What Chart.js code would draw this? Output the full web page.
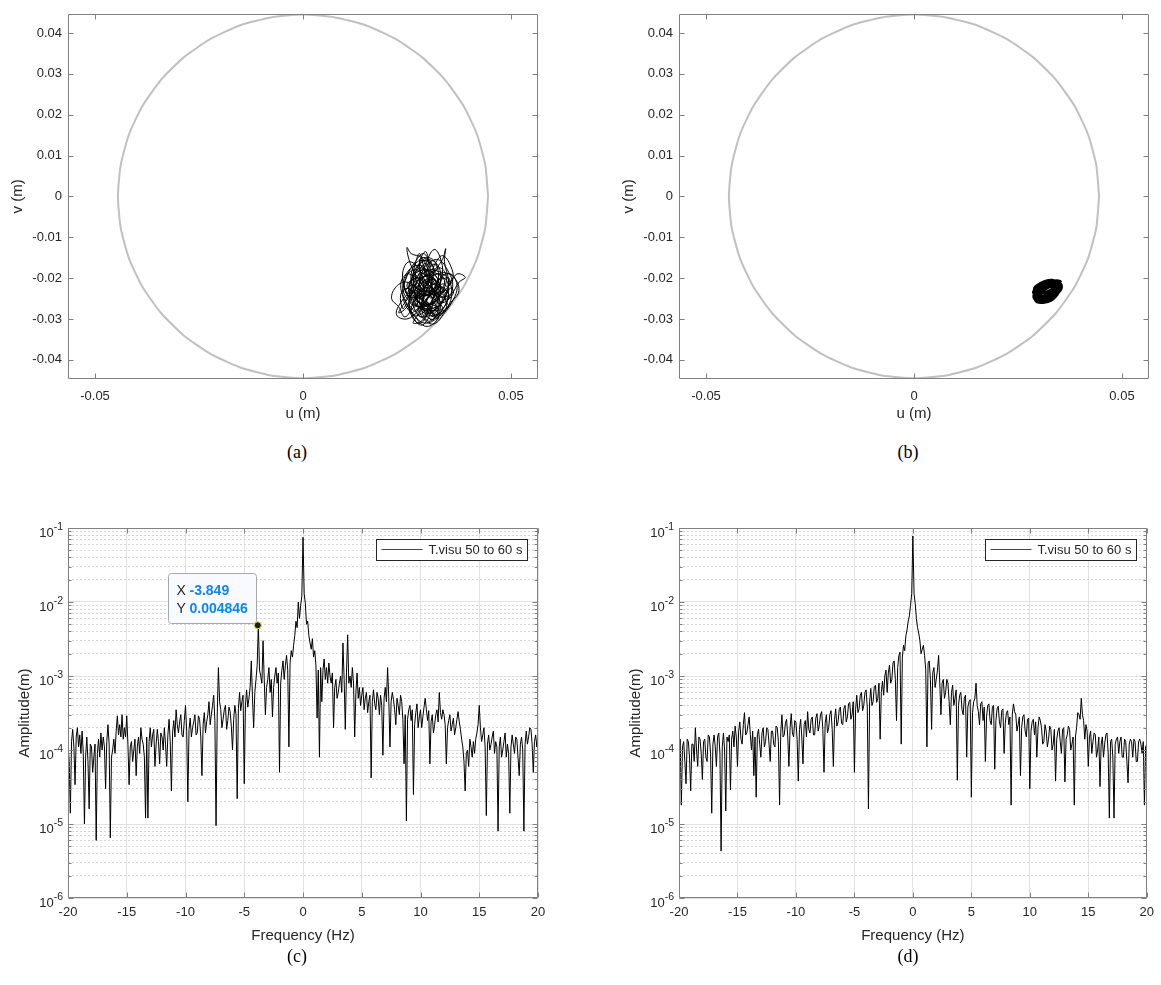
<!DOCTYPE html>
<html>
<head>
<meta charset="utf-8">
<script src="https://cdn.jsdelivr.net/npm/chart.js@4.4.0/dist/chart.umd.min.js"></script>
<style>
  html, body { margin: 0; padding: 0; background: #fff; }
  #page { position: relative; width: 1161px; height: 985px; overflow: hidden; }
  canvas { position: absolute; }
  .cap { position: absolute; font: 18px "Liberation Serif", "Times New Roman", serif; color: #000;
         transform: translate(-50%, -50%); white-space: nowrap; }
</style>
</head>
<body>
<div id="page">
  <canvas id="orbit-a" width="580" height="440" style="left:0;top:0"></canvas>
  <canvas id="orbit-b" width="550" height="440" style="left:611px;top:0"></canvas>
  <canvas id="spec-c" width="580" height="460" style="left:0;top:500px"></canvas>
  <canvas id="spec-d" width="550" height="460" style="left:611px;top:500px"></canvas>
  <div class="cap" style="left:297px;top:452px">(a)</div>
  <div class="cap" style="left:908px;top:452px">(b)</div>
  <div class="cap" style="left:297px;top:956px">(c)</div>
  <div class="cap" style="left:908px;top:956px">(d)</div>
</div>
<script>
const FONT  = '"Liberation Sans", Arial, Helvetica, sans-serif';
const INK   = '#262626';
const FRAME = '#808080';

// ---- orbit plots (a), (b) ----
const U_TICKS = [-0.05, 0, 0.05];
const V_TICKS = [-0.04, -0.03, -0.02, -0.01, 0, 0.01, 0.02, 0.03, 0.04];
const U_RANGE = [-0.0565, 0.0565];
const V_RANGE = [-0.0447, 0.0447];

// clearance circle, r = 0.0445 m, one point every 10 deg
const CIRCLE = [
  [0.0445, 0], [0.04382, 0.00773], [0.04182, 0.01522], [0.03854, 0.02225], [0.03409, 0.02860],
  [0.02860, 0.03409], [0.02225, 0.03854], [0.01522, 0.04182], [0.00773, 0.04382], [0, 0.0445],
  [-0.00773, 0.04382], [-0.01522, 0.04182], [-0.02225, 0.03854], [-0.02860, 0.03409], [-0.03409, 0.02860],
  [-0.03854, 0.02225], [-0.04182, 0.01522], [-0.04382, 0.00773], [-0.0445, 0], [-0.04382, -0.00773],
  [-0.04182, -0.01522], [-0.03854, -0.02225], [-0.03409, -0.02860], [-0.02860, -0.03409], [-0.02225, -0.03854],
  [-0.01522, -0.04182], [-0.00773, -0.04382], [0, -0.0445], [0.00773, -0.04382], [0.01522, -0.04182],
  [0.02225, -0.03854], [0.02860, -0.03409], [0.03409, -0.02860], [0.03854, -0.02225], [0.04182, -0.01522],
  [0.04382, -0.00773], [0.0445, 0]
];

// shaft centre path, mm
const ORBIT_A_MM = [
  [29,-22],[31,-19],[33,-17.5],[34.5,-20],[33,-24],[30,-26.5],[27,-25],[26,-21],[27.5,-17],[30,-15],
  [32,-16.5],[32.5,-21],[31,-25.5],[28,-29],[25.5,-28],[24,-24],[25,-19.5],[27,-16],[29,-14],[30.5,-17],
  [30,-22],[28.5,-27],[30,-30.5],[32.5,-29],[34.5,-26],[36,-22],[35,-18.5],[32.5,-15.5],[29.5,-17],[27,-20.5],
  [25.5,-25],[26.5,-29.5],[28.5,-31.5],[30.5,-29],[31.5,-24],[33,-20],[35.5,-19],[37,-21.5],[36.5,-24.5],[34,-28.5],
  [31.5,-31.2],[29,-30],[27.5,-26],[28,-21],[29.5,-16.5],[31.5,-13],[33,-15],[33.5,-19],[32,-23],[29,-24],
  [26,-23.5],[23.5,-26],[22.5,-29],[25,-30],[27.5,-28],[29,-23.5],[28,-18],[25.5,-16],[24,-18.5],[24.5,-22.5],
  [27,-26.5],[31,-28],[34,-25],[35,-21],[34,-16],[34.3,-12.8],[33.5,-15.5],[31,-18.5],[28,-20],[25,-19],
  [23.5,-21.5],[24.5,-25.5],[27,-29.5],[29.5,-31.8],[32,-30.5],[33,-27],[32,-22.5],[30.5,-19],[28.5,-15],[26,-14],
  [25,-12.5],[25.5,-15.5],[27,-19],[29.5,-22.5],[32.5,-24.5],[35.5,-24],[37.5,-21],[39,-19.8],[37,-19],[35,-22],
  [33.5,-26],[30.5,-27.5],[27,-27],[24.5,-29.5],[23,-27],[21.3,-25],[22.5,-22],[25,-21],[28,-23],[31,-24],
  [33,-21],[32.5,-17],[30,-15.5],[27.5,-17.5],[26.5,-22],[28,-26],[30.5,-28.5],[33.5,-28.5],[35.5,-25.5],[35.5,-21.5],
  [33.5,-19],[30.5,-20],[29,-24.5],[29.5,-29],[31.5,-30],[32.5,-26.5],[31,-22],[29,-19],[26.5,-18],[24.5,-20.5],
  [25,-24],[27.5,-24.5],[30,-21],[31.5,-17],[33.5,-14.5],[35.5,-17],[36,-20.5],[34,-23],[31.5,-26],[29,-27],
  [26,-26],[24,-22.5],[25.5,-18],[28.5,-17],[31,-20.5],[30,-25],[28,-28.5],[26.5,-31],[28.5,-30.5],[31,-27],
  [33,-23.5],[34.5,-27],[32,-29.5],[29.5,-26],[27,-23],[25.5,-26.5],[27.5,-30],[30,-31],[33,-29],[35.5,-26],
  [37.5,-23],[36,-19.5],[33,-18.5],[30,-18],[27,-21.5],[25,-27],[23,-28.5],[24.5,-26],[27.5,-22],[30,-17.5],
  [29.5,-13.5],[28,-16.5],[29,-20],[31.5,-23],[33.5,-25],[31.5,-28],
  [30,-26],[28.5,-24],[27.5,-22.5],[29,-21],[30.5,-23],[29.5,-25.5],[27.5,-27.5],[26,-28.5],[26.5,-26],[28,-24.5],
  [30.5,-24.5],[32,-26],[31,-28.5],[29,-28],[28,-25.5],[29.5,-23],[31.5,-21.5],[33,-22.5],[32.5,-25],[30.5,-26.5],
  [28.5,-26.5],[27,-24],[27.5,-21],[29.5,-19.5],[31.5,-20],[32,-22],[30.5,-23.5],[28.5,-22.5],[27,-19.5],[28,-17.5],
  [30,-18.5],[31,-21],[29.5,-23.5],[27.5,-25],[26,-24],[25.5,-21.5],[27,-20],[29,-20.5],[30.5,-22],[31.5,-24.5],
  [33,-26.5],[34,-24.5],[33,-22],[31,-20],[29,-18],[28,-15.5],[29.5,-15],[31,-16.5],[31.5,-19],[30,-21.5],
  [28,-23.5],[26.5,-25.5],[27,-28],[28.5,-29.5],[30,-28],[31,-25.5],[32.5,-23.5],[34,-21.5],[33.5,-19.5],[32,-19],
  [30,-20],[28.5,-21.5],[28,-24],[29,-26],[31,-26.5],[32.5,-27.5],[32.5,-30],[31.5,-29.5],[30,-29],[28.5,-28],
  [27,-26],[25.5,-23.5],[26,-20.5],[27.5,-18.5],[29.5,-18],[31,-18.5],[32.5,-20.5],[33,-23],[31.5,-24],[29.5,-24],
  [28,-22],[28.5,-20],[30.5,-19.5],[32,-21],[31,-23],[29,-23],[27.5,-24],[27,-26.5],[28.5,-27],[30,-25],
  [31,-23.5],[32.5,-22],[34.5,-23],[35,-25],[33.5,-26],[32,-24.5],[30.5,-21],[29,-17],[28,-14],[27,-16.5],
  [26.5,-19.5],[27,-22.5],[28.5,-25],[30,-27.5],[29,-30.5],[27.5,-31],[26,-29],[25,-26.5],[24,-27.5],[23.5,-24],
  [25,-22.5],[26.5,-23.5],[27.5,-25.5],[29.5,-27.5],[32,-28],[34,-27],[35,-23.5],[34.5,-20.5],[33,-20],[31.5,-22.5],
  [30,-24],[28,-25],[26.5,-22.5],[26,-19],[27.5,-16],[30,-16],[31.5,-18],[30.5,-20.5],[29,-22],[28,-20],
  [29,-20.8],[30.2,-20.2],[31,-21.4],[30.4,-22.6],[29.2,-22.2],[28.4,-23.2],[29,-24.4],[30.2,-24],[31.2,-25],[30.6,-26.2],
  [29.4,-25.8],[28.6,-26.8],[29.2,-28],[30.4,-27.6],[31.4,-28.6],[32.4,-27.8],[33.2,-26.6],[32.4,-25.6],[33.4,-24.6],[34.4,-25.2],
  [35,-24],[34.2,-23],[33.2,-23.6],[32.6,-22.4],[33.6,-21.4],[34.6,-22],[35.4,-21],[34.8,-19.8],[33.6,-20.2],[32.8,-19.2],
  [31.8,-18.6],[32.4,-17.4],[31.4,-16.6],[30.4,-17.4],[29.6,-16.4],[28.6,-17],[28,-18.2],[27,-18.8],[26.4,-20],[27.2,-21],
  [26.6,-22.2],[25.6,-22.8],[25.2,-24],[26.2,-24.8],[25.8,-26],[26.8,-26.8],[27.8,-26],[28.4,-27.4],[27.6,-28.6],[28.6,-29.6],
  [29.8,-29.2],[30.8,-30.2],[31.8,-29.4],[31.2,-28.2],[32.2,-27.2],[31.6,-26],[32.6,-25],[31.8,-24],[32.8,-23.2],[32,-22.2],
  [31,-22.8],[30,-23.4],[29,-23],[28.2,-22],[28.8,-21],[28,-20],[28.6,-18.8],[29.8,-19.2],[30.6,-18.2],[31.6,-19.2],
  [32.4,-20.4],[31.6,-21.4],[30.6,-21],[29.6,-21.8],[29.8,-23],[30.8,-23.8],[31.6,-23],[32.6,-24],[33.6,-23],[34.4,-24],
  [33.8,-25.4],[32.8,-26.2],[33.6,-27.2],[32.8,-28.6],[31.8,-27.8],[30.8,-27],[29.8,-26.4],[28.8,-25.4],[27.8,-24.6],[27,-23.6],
  [26,-23.2],[25,-22],[25.6,-20.8],[26.6,-20.4],[27.6,-19.6],[28.2,-18.4],[27.6,-17.2],[28.6,-16],[29.8,-15.6],[30.8,-16.4],
  [30.2,-17.6],[29.2,-18.2],[29.6,-19.4],[30.8,-19.8],[31.8,-20.8],[32.8,-21.8],[33.8,-22.6],[34.8,-23],[35.6,-22.4],[36.2,-23.4],
  [35.6,-24.6],[34.6,-25.8],[35,-27],[34,-27.8],[33,-28.4],[32,-29],[31,-29.2],[30,-28.6],[29,-27.6],[28,-27.4],
  [27,-28.2],[26.2,-27.4],[25.4,-26.6],[24.6,-25.6],[25.2,-24.4],[24.6,-23.2],[25.4,-22.2],[26.6,-21.6],[27.6,-22.4],[28.6,-23.2],
  [29.6,-24],[30.6,-24.8],[31.4,-25.8],[30.4,-26.4],[29.6,-25.4],[30.4,-24.2],[31.4,-23.4],[32.4,-22.8],[33,-21.8],[32.2,-20.8],
  [31.2,-20.2],[30,-20.6],[29.2,-21.4],[28.4,-22.6],[27.6,-23.6],[26.8,-24.6],[27.4,-25.8],[28.6,-26],[29.8,-27],[30.8,-28.2]
];

const ORBIT_B_MM = [
  [31,-23],[33,-22],[34.5,-21.5],[33.5,-23.5],[31.5,-24.5],[29.5,-24.8],[29,-23.5],[30.5,-22.3],[32.5,-21.5],[34,-22.3],
  [33,-24.5],[30.5,-25.5],[29,-25],[28.8,-24],[30,-23],[32,-22.5],[33.8,-21],[35,-21.5],[34,-23],[32,-24],
  [30,-24.2],[29.2,-22.8],[31,-21.8],[33,-21.2],[34.8,-22.5],[33,-25],[31,-25.8],[29.5,-25.6],[28.7,-24.5],[30.5,-23.8],
  [32.5,-23],[34.2,-21.8],[35.3,-20.8],[33.8,-20.6],[32,-21.5],[30,-22.8],[29.1,-24.2],[30.2,-25.2],[32.2,-25.2],[33.8,-24.2],
  [34.6,-22.8],[33.2,-21.8],[31.2,-22.2],[29.6,-23.3],[29.3,-25.3],[31,-26],[32.8,-25.5],[34.2,-23.6],[35.2,-22],[34.4,-21.2],
  [32.4,-20.8],[30.6,-21.6],[29.4,-22.4],[28.6,-23.5],[29.8,-24.6],[31.8,-24.8],[33.5,-23.6],[34.5,-22],[33,-21],[31.2,-21.2],
  [29.8,-22],[29,-23.2],[29.6,-25],[31.4,-25.5],[33.2,-24.8],[34.8,-23.2],[35,-21.8],[33.6,-20.8],[31.6,-20.9],[30.2,-21.6],
  [30.8,-23.4],[32.6,-23.8],[34,-22.8],[33.4,-22],[31.6,-22.8],[30,-24],[29.2,-25.6],[30.6,-26.1],[32.4,-25.8],[33.6,-25],
  [34.4,-24],[35.5,-22.6],[35.2,-21.2],[33.2,-20.4],[31.8,-20.6],[30.4,-21.2],[29.2,-22],[28.9,-23],[30.2,-23.2],[32,-23.4],
  [33.4,-22.6],[32.4,-22],[30.8,-22.6],[30,-24.6],[31.6,-25.2],[33,-24.4],
  [34.5,-23.3],[35.3,-21.8],[34.2,-20.9],[32.5,-21.3],[31,-22.2],[29.8,-23],[29.4,-24.4],[30.4,-25],[32.2,-24.6],[33.8,-23.8],
  [34.9,-22.4],[34.6,-21.4],[33,-21.6],[31.6,-21.6],[30.4,-22.4],[29.6,-23.8],[29,-24.8],[30,-25.6],[31.8,-25.8],[33.2,-25.2],
  [34.2,-24.4],[35,-23.2],[35.4,-22],[34.8,-20.9],[33.4,-20.5],[32,-20.9],[30.8,-21.5],[29.8,-22.3],[29,-23.6],[28.8,-24.8],
  [29.6,-25.8],[31.2,-26],[32.8,-25.6],[33.9,-24.8],[34.7,-23.6],[33.7,-22.4],[32.3,-22.2],[30.8,-23],[29.8,-24.2],[30.8,-24.8],
  [32.4,-24.2],[33.6,-23.2],[34.1,-22],[33,-21.2],[31.4,-21.4],[30.2,-22],[29.3,-22.9],[28.8,-23.9],[29.4,-24.9],[30.8,-25.4],
  [32.6,-25],[34,-24],[35.1,-22.8],[35.2,-21.5],[34,-20.8],[32.6,-20.6],[31.2,-21],[30,-21.8],[29.4,-23.1],[29.8,-24.5],
  [31.2,-24.9],[32.8,-24.5],[34.2,-23.5],[34.8,-22.2],[33.8,-21.5],[32.2,-21.6],[30.8,-22.3],[30,-23.4],[30.6,-24.2],[32,-23.9],
  [33.2,-23],[33.6,-22],[32.4,-21.8],[31,-22.8],[30.2,-24],[29.8,-25.3],[31,-25.7],[32.6,-25.3],[33.8,-24.4],[34.6,-23]
];

// ---- spectra (c), (d): 0.1 Hz bins ----
const FREQ = [
  -20,-19.9,-19.8,-19.7,-19.6,-19.5,-19.4,-19.3,-19.2,-19.1,
  -19,-18.9,-18.8,-18.7,-18.6,-18.5,-18.4,-18.3,-18.2,-18.1,
  -18,-17.9,-17.8,-17.7,-17.6,-17.5,-17.4,-17.3,-17.2,-17.1,
  -17,-16.9,-16.8,-16.7,-16.6,-16.5,-16.4,-16.3,-16.2,-16.1,
  -16,-15.9,-15.8,-15.7,-15.6,-15.5,-15.4,-15.3,-15.2,-15.1,
  -15,-14.9,-14.8,-14.7,-14.6,-14.5,-14.4,-14.3,-14.2,-14.1,
  -14,-13.9,-13.8,-13.7,-13.6,-13.5,-13.4,-13.3,-13.2,-13.1,
  -13,-12.9,-12.8,-12.7,-12.6,-12.5,-12.4,-12.3,-12.2,-12.1,
  -12,-11.9,-11.8,-11.7,-11.6,-11.5,-11.4,-11.3,-11.2,-11.1,
  -11,-10.9,-10.8,-10.7,-10.6,-10.5,-10.4,-10.3,-10.2,-10.1,
  -10,-9.9,-9.8,-9.7,-9.6,-9.5,-9.4,-9.3,-9.2,-9.1,
  -9,-8.9,-8.8,-8.7,-8.6,-8.5,-8.4,-8.3,-8.2,-8.1,
  -8,-7.9,-7.8,-7.7,-7.6,-7.5,-7.4,-7.3,-7.2,-7.1,
  -7,-6.9,-6.8,-6.7,-6.6,-6.5,-6.4,-6.3,-6.2,-6.1,
  -6,-5.9,-5.8,-5.7,-5.6,-5.5,-5.4,-5.3,-5.2,-5.1,
  -5,-4.9,-4.8,-4.7,-4.6,-4.5,-4.4,-4.3,-4.2,-4.1,
  -4,-3.9,-3.8,-3.7,-3.6,-3.5,-3.4,-3.3,-3.2,-3.1,
  -3,-2.9,-2.8,-2.7,-2.6,-2.5,-2.4,-2.3,-2.2,-2.1,
  -2,-1.9,-1.8,-1.7,-1.6,-1.5,-1.4,-1.3,-1.2,-1.1,
  -1,-0.9,-0.8,-0.7,-0.6,-0.5,-0.4,-0.3,-0.2,-0.1,
  0,
  0.1,0.2,0.3,0.4,0.5,0.6,0.7,0.8,0.9,1,
  1.1,1.2,1.3,1.4,1.5,1.6,1.7,1.8,1.9,2,
  2.1,2.2,2.3,2.4,2.5,2.6,2.7,2.8,2.9,3,
  3.1,3.2,3.3,3.4,3.5,3.6,3.7,3.8,3.9,4,
  4.1,4.2,4.3,4.4,4.5,4.6,4.7,4.8,4.9,5,
  5.1,5.2,5.3,5.4,5.5,5.6,5.7,5.8,5.9,6,
  6.1,6.2,6.3,6.4,6.5,6.6,6.7,6.8,6.9,7,
  7.1,7.2,7.3,7.4,7.5,7.6,7.7,7.8,7.9,8,
  8.1,8.2,8.3,8.4,8.5,8.6,8.7,8.8,8.9,9,
  9.1,9.2,9.3,9.4,9.5,9.6,9.7,9.8,9.9,10,
  10.1,10.2,10.3,10.4,10.5,10.6,10.7,10.8,10.9,11,
  11.1,11.2,11.3,11.4,11.5,11.6,11.7,11.8,11.9,12,
  12.1,12.2,12.3,12.4,12.5,12.6,12.7,12.8,12.9,13,
  13.1,13.2,13.3,13.4,13.5,13.6,13.7,13.8,13.9,14,
  14.1,14.2,14.3,14.4,14.5,14.6,14.7,14.8,14.9,15,
  15.1,15.2,15.3,15.4,15.5,15.6,15.7,15.8,15.9,16,
  16.1,16.2,16.3,16.4,16.5,16.6,16.7,16.8,16.9,17,
  17.1,17.2,17.3,17.4,17.5,17.6,17.7,17.8,17.9,18,
  18.1,18.2,18.3,18.4,18.5,18.6,18.7,18.8,18.9,19,
  19.1,19.2,19.3,19.4,19.5,19.6,19.7,19.8,19.9,20
];

const AMP_C = [
  1.2e-4,7e-5,1.4e-5,1.3e-4,1.9e-4,1.1e-4,3.4e-5,1.5e-4,2.0e-4,1.1e-4,
  1.6e-4,9e-5,1.8e-4,9e-5,1.0e-5,8e-5,1.5e-4,7e-5,1.6e-5,1.2e-4,
  1.1e-4,5e-5,8e-5,1.2e-4,6e-6,9e-5,1.4e-4,8e-5,1.7e-4,1.0e-4,
  1.5e-4,1.1e-4,3e-5,1.3e-4,2.2e-4,1.2e-4,6.5e-6,8e-5,1.0e-4,1.4e-4,
  9e-5,1.8e-4,2.9e-4,1.6e-4,2.2e-4,1.5e-4,3.0e-4,1.4e-4,2.0e-4,1.5e-4,
  2.9e-4,1.2e-4,3.4e-5,1.1e-4,1.3e-4,7e-5,1.0e-4,1.4e-4,4.5e-5,1.1e-4,
  1.5e-4,9e-5,2.0e-4,1.4e-4,1.2e-4,8e-5,1.2e-5,1.5e-4,1.2e-5,1.3e-4,
  2.0e-4,1.1e-4,1.6e-4,1.9e-4,6e-5,1.2e-4,1.9e-4,1.3e-4,6.5e-5,1.7e-4,
  1.5e-4,1.0e-4,2.0e-4,1.2e-4,6e-5,1.6e-4,2.6e-4,1.3e-4,2.8e-5,1.7e-4,
  2.5e-4,1.5e-4,3.5e-4,2.2e-4,1.7e-4,2.4e-4,3.0e-4,1.6e-4,1.5e-4,2.5e-4,
  4.0e-4,1.8e-4,2.0e-5,1.9e-4,2.7e-4,1.5e-4,2.0e-4,2.4e-4,3.0e-4,1.6e-4,
  1.7e-4,2.9e-4,2.6e-4,1.5e-4,4.5e-5,2.2e-4,3.2e-4,1.7e-4,2.4e-4,3.0e-4,
  4.5e-4,2.2e-4,3.0e-4,4.0e-4,5.5e-4,2.5e-4,9.5e-6,3.0e-4,1.3e-3,4.5e-4,
  3.5e-4,2.0e-4,2.6e-4,3.5e-4,4.0e-4,1.9e-4,2.5e-4,3.8e-4,3.3e-4,2.1e-4,
  1.0e-4,2.6e-4,4.0e-4,3.0e-4,2.2e-5,3.6e-4,6.0e-4,3.4e-4,4.5e-4,5.5e-4,
  3.5e-5,4.0e-4,6.5e-4,3.8e-4,5.0e-4,7.0e-4,1.6e-3,5.0e-4,2.0e-4,6.0e-4,
  9.0e-4,1.4e-3,4.846e-3,1.2e-3,1.0e-3,8e-4,3.0e-3,9e-4,3.0e-4,7e-4,
  9e-4,1.3e-3,6e-4,9e-4,2.8e-4,7e-4,1.0e-3,1.3e-3,8e-4,1.1e-3,
  5e-5,8e-4,1.2e-3,1.6e-3,9e-4,1.4e-3,1.9e-3,1.2e-3,1.1e-4,1.5e-3,
  2.2e-3,1.8e-3,2.6e-3,3.5e-3,5.5e-3,4.5e-3,1.0e-2,6e-3,9e-3,1.2e-2,
  7.5e-2,
  1.3e-2,9.5e-3,5e-3,5.5e-3,3.5e-3,2.8e-3,2.3e-3,3.2e-3,1.8e-3,2.2e-3,
  1.4e-3,2.7e-4,1.2e-3,8e-5,1.3e-3,4.5e-4,1.2e-3,1.7e-3,9e-4,1.3e-3,
  8e-4,1.5e-3,1.0e-3,8e-4,1.1e-3,2.0e-4,7e-4,9e-4,5e-4,6e-4,
  8e-4,1.0e-3,6e-4,2.8e-3,9e-4,1.9e-4,1.1e-3,3.6e-3,8e-4,1.0e-3,
  7e-4,1.3e-3,8e-4,1.5e-4,6e-4,1.1e-3,5e-4,7e-4,4e-4,5.5e-4,
  7e-4,3.5e-4,5e-4,6e-4,3.2e-4,4.5e-4,5.5e-4,4.2e-5,4.5e-4,6.5e-4,
  4.2e-4,3.5e-4,6e-4,5.0e-4,3.0e-4,5.5e-4,4.0e-4,8.5e-5,5e-4,7e-4,
  4.5e-4,1.3e-3,5e-4,1.1e-4,4.5e-4,6e-4,4.8e-4,3.5e-4,2.2e-4,5e-4,
  4.0e-4,3.0e-4,5.5e-4,4.5e-4,2.6e-4,6.5e-5,3.0e-4,1.1e-5,2.6e-4,3.5e-4,
  4.0e-4,2.5e-4,3.5e-4,2.5e-5,2.2e-4,3.2e-4,4.2e-4,2.0e-4,2.8e-4,3.5e-4,
  2.0e-4,2.8e-4,3.8e-4,5.0e-4,3.5e-4,2.5e-4,3.4e-4,6.5e-5,2.4e-4,3.0e-4,
  1.7e-4,2.2e-4,3.0e-4,3.5e-4,2.4e-4,6e-4,3.2e-4,2.6e-4,3.5e-4,3.0e-4,
  2.2e-4,6.5e-5,2.0e-4,2.5e-4,3.0e-4,1.8e-4,2.2e-4,2.7e-4,1.6e-4,2.0e-4,
  2.6e-4,3.3e-4,2.4e-4,1.9e-4,1.4e-4,1.1e-4,7e-5,2.8e-5,9e-5,1.0e-4,
  6e-5,1.4e-4,1.1e-4,8e-5,1.3e-4,9e-5,1.4e-4,1.7e-4,2.2e-4,4.0e-4,
  2.0e-4,1.3e-4,1.6e-4,2.0e-4,1.1e-4,1.3e-5,1.2e-4,1.6e-4,1.0e-4,1.2e-4,
  1.5e-4,1.8e-4,9e-5,1.3e-4,1.1e-4,8e-6,1.1e-4,1.5e-4,8e-5,1.0e-4,
  1.3e-4,1.7e-4,8e-5,1.2e-4,9e-5,1.4e-5,1.1e-4,1.6e-4,1.2e-4,9e-5,
  1.5e-4,1.4e-4,8e-5,4.5e-5,1.2e-4,1.5e-4,1.0e-4,8e-6,1.2e-4,1.8e-4,
  1.2e-4,1.5e-4,2.0e-4,1.9e-4,1.2e-4,5e-5,1.3e-4,1.6e-4,1.1e-4,1.7e-4
];

const AMP_D = [
  9e-5,1.4e-4,1.8e-5,1.1e-4,1.3e-4,7e-5,3.5e-5,1.4e-4,1.3e-4,8e-5,
  2.8e-5,1.2e-4,1.2e-4,7e-5,2.0e-4,1.0e-4,6e-5,1.5e-4,1.4e-4,9e-5,
  4e-5,1.3e-4,1.4e-4,8e-5,7e-5,1.6e-4,1.5e-4,9e-5,1.4e-5,1.2e-4,
  1.6e-4,1.1e-4,6e-5,1.5e-4,1.7e-4,9e-5,4.3e-6,1.1e-4,1.7e-4,1.0e-4,
  1.5e-5,1.5e-4,1.3e-4,1.6e-4,2.9e-5,1.4e-4,1.8e-4,1.1e-4,2.1e-4,1.5e-4,
  6e-5,1.8e-4,2.4e-4,1.4e-4,1.2e-4,2.2e-4,3.2e-4,1.6e-4,1.7e-4,2.2e-4,
  2.8e-4,1.6e-4,1.0e-4,1.8e-4,4.5e-5,1.5e-4,2.3e-5,1.6e-4,1.9e-4,1.2e-4,
  8e-5,1.7e-4,2.0e-4,1.1e-4,1.3e-4,2.0e-4,1.9e-4,1.2e-4,7e-5,1.8e-4,
  1.8e-4,1.2e-4,1.1e-4,2.1e-4,2.0e-4,1.3e-4,1.8e-5,1.7e-4,3.0e-4,1.5e-4,
  1.6e-4,2.3e-4,2.6e-4,1.5e-4,6e-5,2.0e-4,3.1e-4,1.7e-4,1.5e-4,2.5e-4,
  2.4e-4,1.4e-4,3.8e-5,1.9e-4,2.6e-4,1.5e-4,6.5e-5,2.2e-4,2.5e-4,1.5e-4,
  3.3e-4,1.9e-4,1.7e-4,2.6e-4,2.8e-4,1.6e-4,1.6e-4,2.7e-4,3.1e-4,1.8e-4,
  2.2e-4,3.0e-4,3.3e-4,1.9e-4,5e-5,2.3e-4,3.0e-4,1.7e-4,2.0e-4,3.0e-4,
  3.4e-4,1.9e-4,6e-5,2.6e-4,3.6e-4,2.1e-4,2.4e-4,3.5e-4,3.8e-4,2.3e-4,
  2.2e-4,3.6e-4,4.0e-4,2.4e-4,2.8e-4,4.2e-4,4.4e-4,2.6e-4,3.0e-4,4.5e-4,
  5e-5,3.5e-4,5.5e-4,3.2e-4,3.6e-4,5.5e-4,6.0e-4,3.4e-4,4.0e-4,6.0e-4,
  6.5e-4,3.8e-4,1.6e-5,4.5e-4,6.8e-4,4.0e-4,4.5e-4,7.2e-4,7.5e-4,4.4e-4,
  5e-4,8e-4,1.4e-4,6e-4,8.5e-4,5.5e-4,1.0e-3,1.2e-3,6e-4,1.1e-3,
  1.4e-3,8e-4,9e-4,1.5e-3,1.6e-3,9e-4,2.5e-4,1.3e-3,1.9e-3,2.1e-3,
  1.2e-4,1.8e-3,2.6e-3,2.2e-3,3.5e-3,4.2e-3,5.5e-3,6.5e-3,9e-3,1.3e-2,
  7.8e-2,
  1.3e-2,9.5e-3,6e-3,4.5e-3,3.8e-3,3.0e-3,2.0e-3,2.3e-3,2.6e-3,1.9e-3,
  1.2e-3,1.1e-4,1.5e-3,1.6e-3,9e-4,1.9e-4,1.1e-3,1.3e-3,7e-4,9e-4,
  1.2e-3,1.9e-3,8e-4,3e-4,8e-4,9e-4,5e-4,6e-4,9e-4,8e-4,
  4.5e-4,2.2e-4,6e-4,7.5e-4,4e-4,5e-4,6.5e-4,3.9e-5,4.0e-4,5.5e-4,
  6e-4,3.5e-4,3.0e-4,5e-4,5.5e-4,8e-5,3.8e-4,4.5e-4,4.8e-4,2.3e-5,
  3.2e-4,4.5e-4,5.0e-4,8e-4,4.0e-4,3.3e-4,2.2e-4,4.2e-4,4.5e-4,2.5e-4,
  3.8e-4,7e-5,2.8e-4,4.0e-4,4.2e-4,2.5e-4,2.2e-4,3.8e-4,4.0e-4,5.5e-5,
  2.5e-4,3.6e-4,3.9e-4,2.4e-4,2.0e-4,3.4e-4,3.6e-4,9e-5,2.3e-4,3.2e-4,
  3.4e-4,2.2e-4,2.8e-4,1.8e-5,3.0e-4,4.2e-4,3.3e-4,3.0e-4,1.8e-4,2.2e-4,
  2.8e-4,4.5e-5,2.0e-4,2.8e-4,3.0e-4,1.8e-4,1.5e-4,2.6e-4,2.7e-4,3.0e-5,
  1.8e-4,2.4e-4,2.6e-4,1.6e-4,2.4e-4,8e-5,2.0e-4,2.8e-4,2.5e-4,2.0e-4,
  1.2e-4,1.3e-4,2.2e-4,1.8e-4,1.1e-4,1.4e-4,2.1e-4,1.9e-4,1.0e-4,1.2e-4,
  1.9e-4,3.8e-5,1.4e-4,1.8e-4,2.0e-4,1.3e-4,9e-5,1.9e-4,2.0e-4,3.7e-5,
  1.4e-4,1.6e-4,2.1e-4,1.9e-4,1.0e-4,1.2e-4,1.5e-4,1.8e-5,1.5e-4,2.0e-4,
  3.2e-4,3.0e-4,2.6e-4,5.0e-4,3.0e-4,2.5e-4,1.4e-4,2.2e-4,1.8e-4,6e-5,
  1.5e-4,1.8e-4,9e-5,1.3e-4,1.7e-4,1.6e-4,8e-5,1.0e-4,1.5e-4,3.2e-5,
  1.2e-4,1.5e-4,8e-5,1.2e-4,1.6e-4,1.7e-4,9e-5,1.2e-5,1.3e-4,1.4e-4,
  8e-5,1.2e-5,1.2e-4,1.4e-4,1.5e-4,9e-5,1.3e-4,1.5e-4,8e-5,8e-5,
  1.4e-4,1.3e-4,7e-5,3.6e-5,1.2e-4,1.4e-4,1.3e-4,8e-5,1.4e-4,1.3e-4,
  7e-5,7e-5,1.3e-4,1.4e-4,1.2e-4,9e-5,1.3e-4,1.8e-5,1.1e-4,1.2e-4
];

const F_TICKS      = [-20, -15, -10, -5, 0, 5, 10, 15, 20];
const AMP_DECADES  = [1e-6, 1e-5, 1e-4, 1e-3, 1e-2, 1e-1];
const AMP_MINOR    = [2, 3, 4, 5, 6, 7, 8, 9];
const LEGEND_TEXT  = 'T.visu 50 to 60 s';
const TIP_X = -3.849;
const TIP_Y = 0.004846;

Chart.defaults.font.family = FONT;
Chart.defaults.color = INK;

function isDecade(v) {
  const e = Math.log10(v);
  return Math.abs(e - Math.round(e)) < 1e-9;
}

// inward ticks + box, log tick labels with exponent
const matlabAxes = {
  id: 'matlabAxes',
  afterDatasetsDraw(chart, args, opts) {
    const { ctx, chartArea: a, scales: { x, y } } = chart;
    const L = Math.round(a.left) + 0.5, R = Math.round(a.right) - 0.5;
    const T = Math.round(a.top) + 0.5,  B = Math.round(a.bottom) - 0.5;
    ctx.save();
    ctx.strokeStyle = FRAME;
    ctx.lineWidth = 1;
    ctx.beginPath();
    for (const t of x.ticks) {
      const px = Math.round(x.getPixelForValue(t.value)) + 0.5;
      ctx.moveTo(px, B); ctx.lineTo(px, B - 5);
      ctx.moveTo(px, T); ctx.lineTo(px, T + 5);
    }
    for (const t of y.ticks) {
      const py = Math.round(y.getPixelForValue(t.value)) + 0.5;
      const len = opts.logY && !isDecade(t.value) ? 3 : 5;
      ctx.moveTo(L, py); ctx.lineTo(L + len, py);
      ctx.moveTo(R, py); ctx.lineTo(R - len, py);
    }
    ctx.rect(L, T, R - L, B - T);
    ctx.stroke();
    ctx.restore();
  },
  afterDraw(chart, args, opts) {
    if (!opts.logY) return;
    const { ctx, chartArea: a, scales: { y } } = chart;
    ctx.save();
    ctx.fillStyle = INK;
    ctx.textBaseline = 'middle';
    ctx.textAlign = 'left';
    for (const d of AMP_DECADES) {
      const py = y.getPixelForValue(d);
      const exp = String(Math.round(Math.log10(d)));
      ctx.font = `10.5px ${FONT}`;
      const ew = ctx.measureText(exp).width;
      ctx.font = `13px ${FONT}`;
      const bw = ctx.measureText('10').width;
      const right = a.left - 5;
      ctx.fillText('10', right - ew - bw, py + 5);
      ctx.font = `10.5px ${FONT}`;
      ctx.fillText(exp, right - ew, py - 1);
    }
    ctx.restore();
  }
};

const legendBox = {
  id: 'legendBox',
  afterDraw(chart, args, opts) {
    if (!opts.text) return;
    const { ctx, chartArea: a } = chart;
    ctx.save();
    ctx.font = `13px ${FONT}`;
    const tw = ctx.measureText(opts.text).width;
    const w = Math.round(5 + 41 + 6 + tw + 5), h = 21;
    const x0 = Math.round(a.right) - 11 - w + 0.5, y0 = Math.round(a.top) + 11 + 0.5;
    ctx.fillStyle = '#fff';
    ctx.fillRect(x0, y0, w, h);
    ctx.strokeStyle = INK;
    ctx.lineWidth = 1;
    ctx.strokeRect(x0, y0, w, h);
    ctx.strokeStyle = '#444';
    ctx.beginPath();
    ctx.moveTo(x0 + 5, y0 + 10); ctx.lineTo(x0 + 46, y0 + 10);
    ctx.stroke();
    ctx.fillStyle = INK;
    ctx.textBaseline = 'middle';
    ctx.fillText(opts.text, x0 + 52, y0 + h / 2 + 0.5);
    ctx.restore();
  }
};

const dataTip = {
  id: 'dataTip',
  beforeDatasetsDraw(chart, args, opts) {
    if (!opts.show) return;
    const { ctx, scales: { x, y } } = chart;
    const px = x.getPixelForValue(TIP_X), py = y.getPixelForValue(TIP_Y);
    const left = Math.round(px - 90) + 0.5, top = Math.round(py - 52) + 0.5;
    const w = 88, h = 50;
    ctx.save();
    ctx.beginPath();
    ctx.roundRect(left, top, w, h, 3);
    ctx.fillStyle = 'rgba(248,250,255,0.96)';
    ctx.fill();
    ctx.strokeStyle = '#a8a8a8';
    ctx.lineWidth = 1;
    ctx.stroke();
    ctx.textBaseline = 'middle';
    ctx.font = `14px ${FONT}`;
    ctx.fillStyle = INK;
    ctx.fillText('X', left + 8, top + 17.5);
    ctx.fillText('Y', left + 8, top + 36);
    ctx.font = `bold 14px ${FONT}`;
    ctx.fillStyle = '#0d86f5';
    ctx.fillText(String(TIP_X), left + 21, top + 17.5);
    ctx.fillText(String(TIP_Y), left + 21, top + 36);
    ctx.restore();
  }
};

function tickFont() { return { family: FONT, size: 13 }; }
function titleFont() { return { family: FONT, size: 15 }; }

function orbitChart(id, pathMm, padRight, pathWidth) {
  return new Chart(document.getElementById(id), {
    type: 'scatter',
    data: {
      datasets: [
        {
          data: pathMm.map(([u, v]) => ({ x: u / 1000, y: v / 1000 })),
          showLine: true, borderColor: '#000', borderWidth: pathWidth,
          pointRadius: 0, tension: 0.4
        },
        {
          data: CIRCLE.map(([u, v]) => ({ x: u, y: v })),
          showLine: true, borderColor: '#c0c0c0', borderWidth: 2,
          pointRadius: 0, tension: 0.2
        }
      ]
    },
    options: {
      responsive: false, animation: false, events: [],
      layout: { padding: { left: 0, right: padRight, top: 9, bottom: 0 } },
      plugins: { legend: { display: false }, tooltip: { enabled: false },
                 matlabAxes: { logY: false }, legendBox: {}, dataTip: {} },
      scales: {
        x: {
          type: 'linear', min: U_RANGE[0], max: U_RANGE[1],
          afterBuildTicks: s => { s.ticks = U_TICKS.map(v => ({ value: v })); },
          afterFit: s => { s.height = 61; },
          grid: { display: false, drawTicks: false },
          border: { display: false },
          ticks: { color: INK, font: tickFont(), padding: 10, autoSkip: false, maxRotation: 0,
                   callback: v => String(v) },
          title: { display: true, text: 'u (m)', color: INK, font: titleFont(),
                   padding: { top: 0, bottom: 17 } }
        },
        y: {
          type: 'linear', min: V_RANGE[0], max: V_RANGE[1],
          afterBuildTicks: s => { s.ticks = V_TICKS.map(v => ({ value: v })); },
          afterFit: s => { s.width = 68; },
          grid: { display: false, drawTicks: false },
          border: { display: false },
          ticks: { color: INK, font: tickFont(), padding: 6, autoSkip: false,
                   callback: v => String(v) },
          title: { display: true, text: 'v (m)', color: INK, font: titleFont(),
                   padding: { top: 9, bottom: 0 } }
        }
      }
    },
    plugins: [matlabAxes, legendBox, dataTip]
  });
}

function spectrumChart(id, amps, padRight, showTip) {
  const datasets = [];
  if (showTip) {
    datasets.push({
      data: [{ x: TIP_X, y: TIP_Y }],
      pointRadius: 3.5, pointBackgroundColor: '#1e1e1e',
      pointBorderColor: '#e2d86a', pointBorderWidth: 1
    });
  }
  datasets.push({
    data: FREQ.map((f, i) => ({ x: f, y: amps[i] })),
    showLine: true, borderColor: '#000', borderWidth: 1,
    pointRadius: 0, tension: 0
  });
  return new Chart(document.getElementById(id), {
    type: 'scatter',
    data: { datasets },
    options: {
      responsive: false, animation: false, events: [],
      layout: { padding: { left: 0, right: padRight, top: 28, bottom: 0 } },
      plugins: { legend: { display: false }, tooltip: { enabled: false },
                 matlabAxes: { logY: true }, legendBox: { text: LEGEND_TEXT },
                 dataTip: { show: showTip } },
      scales: {
        x: {
          type: 'linear', min: -20, max: 20,
          afterBuildTicks: s => { s.ticks = F_TICKS.map(v => ({ value: v })); },
          afterFit: s => { s.height = 62; },
          grid: { color: '#e2e2e2', drawTicks: false },
          border: { display: false },
          ticks: { color: INK, font: tickFont(), padding: 7, autoSkip: false, maxRotation: 0,
                   callback: v => String(v) },
          title: { display: true, text: 'Frequency (Hz)', color: INK, font: titleFont(),
                   padding: { top: 0, bottom: 15 } }
        },
        y: {
          type: 'logarithmic', min: AMP_DECADES[0], max: AMP_DECADES[AMP_DECADES.length - 1],
          afterBuildTicks: s => {
            const t = [];
            AMP_DECADES.forEach((d, k) => {
              t.push({ value: d });
              if (k < AMP_DECADES.length - 1) AMP_MINOR.forEach(m => t.push({ value: m * d }));
            });
            s.ticks = t;
          },
          afterFit: s => { s.width = 68; },
          grid: {
            drawTicks: false,
            color: c => (c.tick && !isDecade(c.tick.value)) ? '#d6d6d6' : '#e2e2e2'
          },
          border: { display: false, dash: c => (c.tick && !isDecade(c.tick.value)) ? [2, 2] : [] },
          ticks: { display: false },
          title: { display: true, text: 'Amplitude(m)', color: INK, font: titleFont(),
                   padding: { top: 16, bottom: 0 } }
        }
      }
    },
    plugins: [matlabAxes, legendBox, dataTip]
  });
}

orbitChart('orbit-a', ORBIT_A_MM, 42, 1);
orbitChart('orbit-b', ORBIT_B_MM, 12, 2);
spectrumChart('spec-c', AMP_C, 42, true);
spectrumChart('spec-d', AMP_D, 12, false);
</script>
</body>
</html>
